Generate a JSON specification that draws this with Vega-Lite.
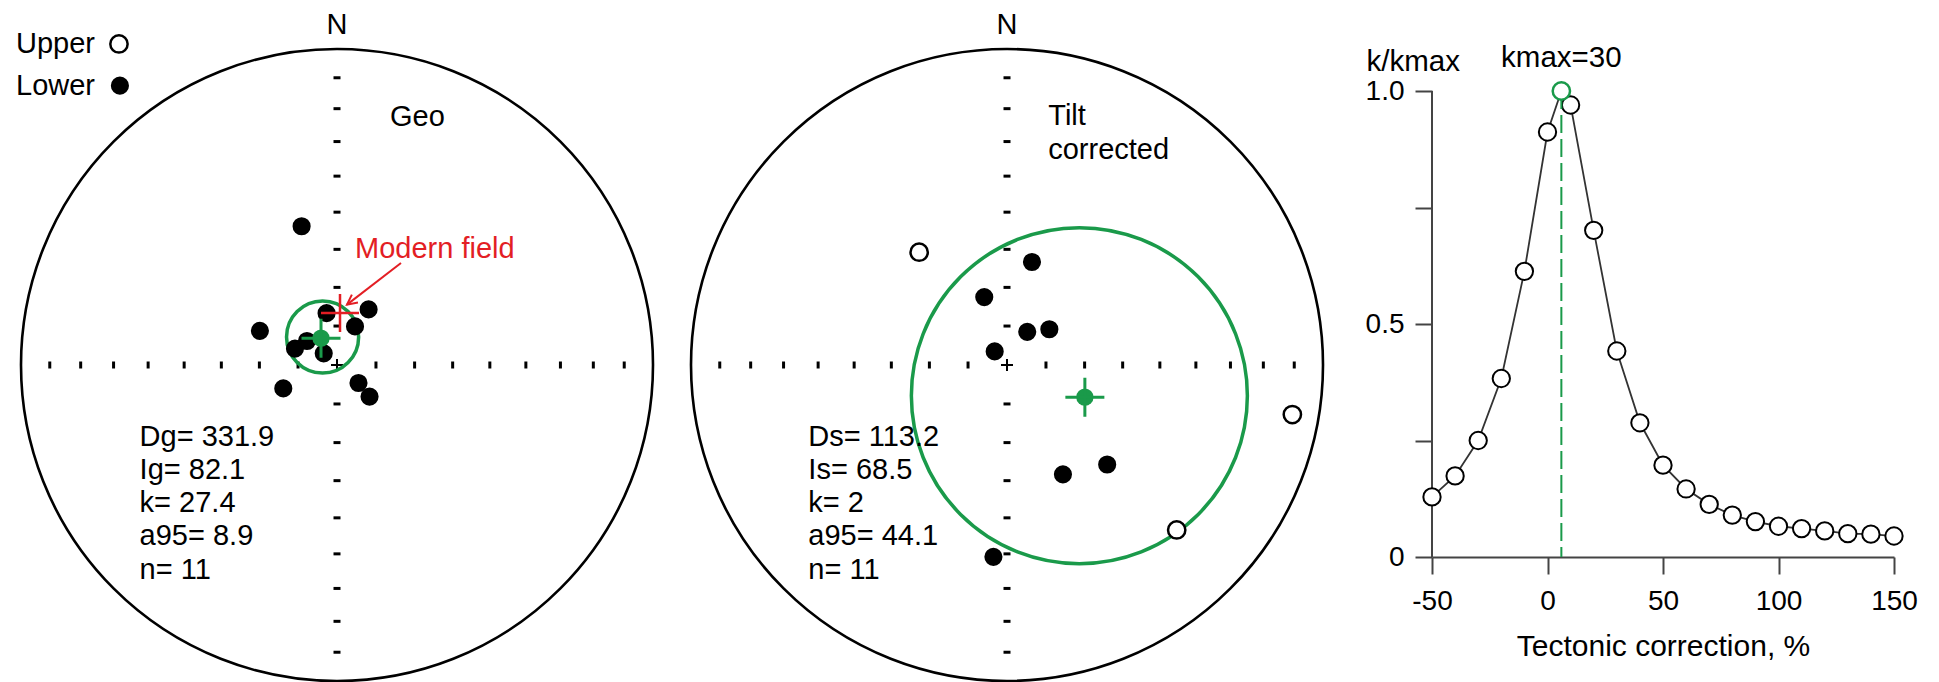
{
  "$schema": "https://vega.github.io/schema/vega-lite/v6.json",
  "padding": 0,
  "background": "white",
  "spacing": 0,
  "bounds": "flush",
  "config": {"view": {"stroke": null}, "font": "Liberation Sans"},
  "datasets": {
    "origin": [{"e": 0, "n": 0}],
    "ticksH": [
      {"e": 0.1233, "n": 0}, {"e": 0.2456, "n": 0}, {"e": 0.366, "n": 0}, {"e": 0.4837, "n": 0},
      {"e": 0.5977, "n": 0}, {"e": 0.7071, "n": 0}, {"e": 0.8112, "n": 0}, {"e": 0.909, "n": 0},
      {"e": -0.1233, "n": 0}, {"e": -0.2456, "n": 0}, {"e": -0.366, "n": 0}, {"e": -0.4837, "n": 0},
      {"e": -0.5977, "n": 0}, {"e": -0.7071, "n": 0}, {"e": -0.8112, "n": 0}, {"e": -0.909, "n": 0}
    ],
    "ticksV": [
      {"e": 0, "n": 0.1233}, {"e": 0, "n": 0.2456}, {"e": 0, "n": 0.366}, {"e": 0, "n": 0.4837},
      {"e": 0, "n": 0.5977}, {"e": 0, "n": 0.7071}, {"e": 0, "n": 0.8112}, {"e": 0, "n": 0.909},
      {"e": 0, "n": -0.1233}, {"e": 0, "n": -0.2456}, {"e": 0, "n": -0.366}, {"e": 0, "n": -0.4837},
      {"e": 0, "n": -0.5977}, {"e": 0, "n": -0.7071}, {"e": 0, "n": -0.8112}, {"e": 0, "n": -0.909}
    ],
    "geo": [
      {"e": -0.112, "n": 0.439, "pol": "Lower"},
      {"e": 0.1, "n": 0.176, "pol": "Lower"},
      {"e": -0.033, "n": 0.164, "pol": "Lower"},
      {"e": 0.057, "n": 0.122, "pol": "Lower"},
      {"e": -0.244, "n": 0.108, "pol": "Lower"},
      {"e": -0.095, "n": 0.076, "pol": "Lower"},
      {"e": -0.133, "n": 0.052, "pol": "Lower"},
      {"e": -0.042, "n": 0.037, "pol": "Lower"},
      {"e": -0.17, "n": -0.074, "pol": "Lower"},
      {"e": 0.068, "n": -0.057, "pol": "Lower"},
      {"e": 0.103, "n": -0.1, "pol": "Lower"}
    ],
    "tilt": [
      {"e": 0.079, "n": 0.326, "pol": "Lower"},
      {"e": -0.072, "n": 0.215, "pol": "Lower"},
      {"e": 0.064, "n": 0.105, "pol": "Lower"},
      {"e": 0.134, "n": 0.113, "pol": "Lower"},
      {"e": -0.039, "n": 0.043, "pol": "Lower"},
      {"e": 0.317, "n": -0.315, "pol": "Lower"},
      {"e": 0.177, "n": -0.346, "pol": "Lower"},
      {"e": -0.043, "n": -0.607, "pol": "Lower"},
      {"e": -0.278, "n": 0.357, "pol": "Upper"},
      {"e": 0.903, "n": -0.157, "pol": "Upper"},
      {"e": 0.537, "n": -0.522, "pol": "Upper"}
    ],
    "legend": [
      {"e": -0.69, "n": 1.016, "pol": "Upper"},
      {"e": -0.687, "n": 0.884, "pol": "Lower"}
    ],
    "geoMean": [{"e": -0.0506, "n": 0.0848}],
    "geoCone": [{"e": -0.0456, "n": 0.0886}],
    "tiltMean": [{"e": 0.2464, "n": -0.1019}],
    "tiltCone": [{"e": 0.229, "n": -0.097}],
    "modern": [{"e": 0.0095, "n": 0.1646}],
    "arrow": [{"e": 0.2025, "n": 0.323, "e2": 0.0316, "n2": 0.191}],
    "arrowHead": [{"e": 0.0316, "n": 0.191}],
    "north": [{"e": 0, "n": 1.0475, "label": "N"}],
    "geoText": [
      {"e": -1.0158, "n": 0.987, "label": "Upper"},
      {"e": -1.0158, "n": 0.854, "label": "Lower"},
      {"e": 0.1677, "n": 0.7563, "label": "Geo"},
      {"e": -0.6247, "n": -0.2563, "label": "Dg= 331.9"},
      {"e": -0.6247, "n": -0.3608, "label": "Ig= 82.1"},
      {"e": -0.6247, "n": -0.4652, "label": "k= 27.4"},
      {"e": -0.6247, "n": -0.5696, "label": "a95= 8.9"},
      {"e": -0.6247, "n": -0.6772, "label": "n= 11"}
    ],
    "modernText": [{"e": 0.057, "n": 0.34, "label": "Modern field"}],
    "tiltText": [
      {"e": 0.1305, "n": 0.76, "label": "Tilt"},
      {"e": 0.1305, "n": 0.6524, "label": "corrected"},
      {"e": -0.6287, "n": -0.2563, "label": "Ds= 113.2"},
      {"e": -0.6287, "n": -0.3608, "label": "Is= 68.5"},
      {"e": -0.6287, "n": -0.4652, "label": "k= 2"},
      {"e": -0.6287, "n": -0.5696, "label": "a95= 44.1"},
      {"e": -0.6287, "n": -0.6772, "label": "n= 11"}
    ],
    "fold": [
      {"corr": -50, "ratio": 0.129, "kind": "step"},
      {"corr": -40, "ratio": 0.174, "kind": "step"},
      {"corr": -30, "ratio": 0.25, "kind": "step"},
      {"corr": -20, "ratio": 0.383, "kind": "step"},
      {"corr": -10, "ratio": 0.613, "kind": "step"},
      {"corr": 0, "ratio": 0.912, "kind": "step"},
      {"corr": 6, "ratio": 1.0, "kind": "kmax"},
      {"corr": 10, "ratio": 0.97, "kind": "step"},
      {"corr": 20, "ratio": 0.701, "kind": "step"},
      {"corr": 30, "ratio": 0.442, "kind": "step"},
      {"corr": 40, "ratio": 0.288, "kind": "step"},
      {"corr": 50, "ratio": 0.197, "kind": "step"},
      {"corr": 60, "ratio": 0.146, "kind": "step"},
      {"corr": 70, "ratio": 0.113, "kind": "step"},
      {"corr": 80, "ratio": 0.09, "kind": "step"},
      {"corr": 90, "ratio": 0.076, "kind": "step"},
      {"corr": 100, "ratio": 0.066, "kind": "step"},
      {"corr": 110, "ratio": 0.061, "kind": "step"},
      {"corr": 120, "ratio": 0.056, "kind": "step"},
      {"corr": 130, "ratio": 0.05, "kind": "step"},
      {"corr": 140, "ratio": 0.049, "kind": "step"},
      {"corr": 150, "ratio": 0.045, "kind": "step"}
    ]
  },
  "hconcat": [
    {
      "width": 674,
      "height": 682,
      "encoding": {
        "x": {"field": "e", "type": "quantitative", "scale": {"domain": [-1.0665, 1.0665], "nice": false, "zero": false}, "axis": null},
        "y": {"field": "n", "type": "quantitative", "scale": {"domain": [-1.0032, 1.1551], "nice": false, "zero": false}, "axis": null}
      },
      "layer": [
        {"data": {"name": "origin"}, "mark": {"type": "point", "shape": "circle", "filled": false, "stroke": "black", "strokeWidth": 2.6, "size": 399424, "opacity": 1}},
        {"data": {"name": "ticksH"}, "mark": {"type": "point", "shape": "M0,-1L0,1", "filled": false, "stroke": "black", "strokeWidth": 3, "size": 49, "opacity": 1}},
        {"data": {"name": "ticksV"}, "mark": {"type": "point", "shape": "M-1,0L1,0", "filled": false, "stroke": "black", "strokeWidth": 3, "size": 49, "opacity": 1}},
        {"data": {"name": "origin"}, "mark": {"type": "point", "shape": "M-1,0L1,0M0,-1L0,1", "filled": false, "stroke": "black", "strokeWidth": 2, "size": 144, "opacity": 1}},
        {"data": {"name": "geoCone"}, "mark": {"type": "point", "shape": "circle", "filled": false, "stroke": "#1a9a4a", "strokeWidth": 3.5, "size": 5200, "opacity": 1}},
        {"data": {"name": "geo"}, "mark": {"type": "point", "shape": "circle", "filled": true, "stroke": "black", "strokeWidth": 2.5, "opacity": 1},
          "encoding": {
            "fill": {"field": "pol", "type": "nominal", "scale": {"domain": ["Upper", "Lower"], "range": ["white", "black"]}, "legend": null},
            "size": {"field": "pol", "type": "ordinal", "scale": {"domain": ["Upper", "Lower"], "range": [300, 245]}, "legend": null}
          }},
        {"data": {"name": "legend"}, "mark": {"type": "point", "shape": "circle", "filled": true, "stroke": "black", "strokeWidth": 2.5, "opacity": 1},
          "encoding": {
            "fill": {"field": "pol", "type": "nominal", "scale": {"domain": ["Upper", "Lower"], "range": ["white", "black"]}, "legend": null},
            "size": {"field": "pol", "type": "ordinal", "scale": {"domain": ["Upper", "Lower"], "range": [300, 245]}, "legend": null}
          }},
        {"data": {"name": "geoMean"}, "mark": {"type": "point", "shape": "circle", "filled": true, "fill": "#1a9a4a", "strokeWidth": 0, "size": 300, "opacity": 1}},
        {"data": {"name": "geoMean"}, "mark": {"type": "point", "shape": "M-1,0L1,0M0,-1L0,1", "filled": false, "stroke": "#1a9a4a", "strokeWidth": 3, "size": 1521, "opacity": 1}},
        {"data": {"name": "modern"}, "mark": {"type": "point", "shape": "M-1,0L1,0M0,-1L0,1", "filled": false, "stroke": "#e31e24", "strokeWidth": 2.5, "size": 1444, "opacity": 1}},
        {"data": {"name": "arrow"}, "mark": {"type": "rule", "color": "#e31e24", "strokeWidth": 2}, "encoding": {"x2": {"field": "e2"}, "y2": {"field": "n2"}}},
        {"data": {"name": "arrowHead"}, "mark": {"type": "point", "shape": "M-0.5,1L0,0L0.5,1", "filled": false, "stroke": "#e31e24", "strokeWidth": 2, "size": 400, "angle": 232.5, "opacity": 1}},
        {"data": {"name": "north"}, "mark": {"type": "text", "fontSize": 29, "align": "center", "baseline": "alphabetic", "color": "black"}, "encoding": {"text": {"field": "label"}}},
        {"data": {"name": "geoText"}, "mark": {"type": "text", "fontSize": 29, "align": "left", "baseline": "alphabetic", "color": "black"}, "encoding": {"text": {"field": "label"}}},
        {"data": {"name": "modernText"}, "mark": {"type": "text", "fontSize": 29, "align": "left", "baseline": "alphabetic", "color": "#e31e24"}, "encoding": {"text": {"field": "label"}}}
      ]
    },
    {
      "width": 758,
      "height": 682,
      "encoding": {
        "x": {"field": "e", "type": "quantitative", "scale": {"domain": [-1.0538, 1.3449], "nice": false, "zero": false}, "axis": null},
        "y": {"field": "n", "type": "quantitative", "scale": {"domain": [-1.0032, 1.1551], "nice": false, "zero": false}, "axis": null}
      },
      "layer": [
        {"data": {"name": "origin"}, "mark": {"type": "point", "shape": "circle", "filled": false, "stroke": "black", "strokeWidth": 2.6, "size": 399424, "opacity": 1}},
        {"data": {"name": "ticksH"}, "mark": {"type": "point", "shape": "M0,-1L0,1", "filled": false, "stroke": "black", "strokeWidth": 3, "size": 49, "opacity": 1}},
        {"data": {"name": "ticksV"}, "mark": {"type": "point", "shape": "M-1,0L1,0", "filled": false, "stroke": "black", "strokeWidth": 3, "size": 49, "opacity": 1}},
        {"data": {"name": "origin"}, "mark": {"type": "point", "shape": "M-1,0L1,0M0,-1L0,1", "filled": false, "stroke": "black", "strokeWidth": 2, "size": 144, "opacity": 1}},
        {"data": {"name": "tiltCone"}, "mark": {"type": "point", "shape": "circle", "filled": false, "stroke": "#1a9a4a", "strokeWidth": 3.5, "size": 112896, "opacity": 1}},
        {"data": {"name": "tilt"}, "mark": {"type": "point", "shape": "circle", "filled": true, "stroke": "black", "strokeWidth": 2.5, "opacity": 1},
          "encoding": {
            "fill": {"field": "pol", "type": "nominal", "scale": {"domain": ["Upper", "Lower"], "range": ["white", "black"]}, "legend": null},
            "size": {"field": "pol", "type": "ordinal", "scale": {"domain": ["Upper", "Lower"], "range": [300, 245]}, "legend": null}
          }},
        {"data": {"name": "tiltMean"}, "mark": {"type": "point", "shape": "circle", "filled": true, "fill": "#1a9a4a", "strokeWidth": 0, "size": 300, "opacity": 1}},
        {"data": {"name": "tiltMean"}, "mark": {"type": "point", "shape": "M-1,0L1,0M0,-1L0,1", "filled": false, "stroke": "#1a9a4a", "strokeWidth": 3, "size": 1521, "opacity": 1}},
        {"data": {"name": "north"}, "mark": {"type": "text", "fontSize": 29, "align": "center", "baseline": "alphabetic", "color": "black"}, "encoding": {"text": {"field": "label"}}},
        {"data": {"name": "tiltText"}, "mark": {"type": "text", "fontSize": 29, "align": "left", "baseline": "alphabetic", "color": "black"}, "encoding": {"text": {"field": "label"}}}
      ]
    },
    {
      "width": 462,
      "height": 557,
      "data": {"name": "fold"},
      "encoding": {
        "x": {"field": "corr", "type": "quantitative", "scale": {"domain": [-50, 150], "nice": false, "zero": false},
          "axis": {"values": [-50, 0, 50, 100, 150], "grid": false, "tickSize": 17, "tickWidth": 2, "tickColor": "#444", "domainColor": "#444", "domainWidth": 2,
            "labelFontSize": 28, "labelColor": "black", "labelPadding": 13, "labelFlush": false, "labelOverlap": false,
            "labelExpr": "datum.value < 0 ? '-' + abs(datum.value) : '' + datum.value",
            "title": "Tectonic correction, %", "titleFontSize": 30, "titleFontWeight": "normal", "titleColor": "black", "titleY": 98, "titleBaseline": "alphabetic"}},
        "y": {"field": "ratio", "type": "quantitative", "scale": {"domain": [0, 1.19528], "nice": false, "zero": false},
          "axis": {"values": [0, 0.25, 0.5, 0.75, 1], "domain": false, "grid": false, "tickSize": 17, "tickWidth": 2, "tickColor": "#444",
            "labelFontSize": 28, "labelColor": "black", "labelPadding": 11, "labelFlush": false, "labelOverlap": false,
            "labelExpr": "datum.value == 0 ? '0' : datum.value == 0.5 ? '0.5' : datum.value == 1 ? '1.0' : ''",
            "title": "k/kmax", "titleAngle": 0, "titleAlign": "left", "titleBaseline": "alphabetic", "titleX": -66, "titleY": 70,
            "titleFontSize": 29.5, "titleFontWeight": "normal", "titleColor": "black"}}
      },
      "layer": [
        {"data": {"values": [{"corr": -50, "ratio": 0, "ratio2": 1}]}, "mark": {"type": "rule", "color": "#444", "strokeWidth": 2}, "encoding": {"y2": {"field": "ratio2"}}},
        {"mark": {"type": "line", "color": "#333", "strokeWidth": 1.8}},
        {"transform": [{"filter": "datum.kind == 'step'"}], "mark": {"type": "point", "shape": "circle", "filled": true, "fill": "white", "stroke": "black", "strokeWidth": 2, "size": 300, "opacity": 1}},
        {"transform": [{"filter": "datum.kind == 'kmax'"}], "mark": {"type": "rule", "color": "#1a9a4a", "strokeWidth": 2, "strokeDash": [18, 6]}, "encoding": {"y2": {"datum": 0}}},
        {"transform": [{"filter": "datum.kind == 'kmax'"}], "mark": {"type": "point", "shape": "circle", "filled": true, "fill": "white", "stroke": "#1a9a4a", "strokeWidth": 2.5, "size": 300, "opacity": 1}},
        {"transform": [{"filter": "datum.kind == 'kmax'"}], "mark": {"type": "text", "text": "kmax=30", "fontSize": 29.5, "dy": -24, "align": "center", "baseline": "alphabetic", "color": "black"}}
      ]
    }
  ]
}
